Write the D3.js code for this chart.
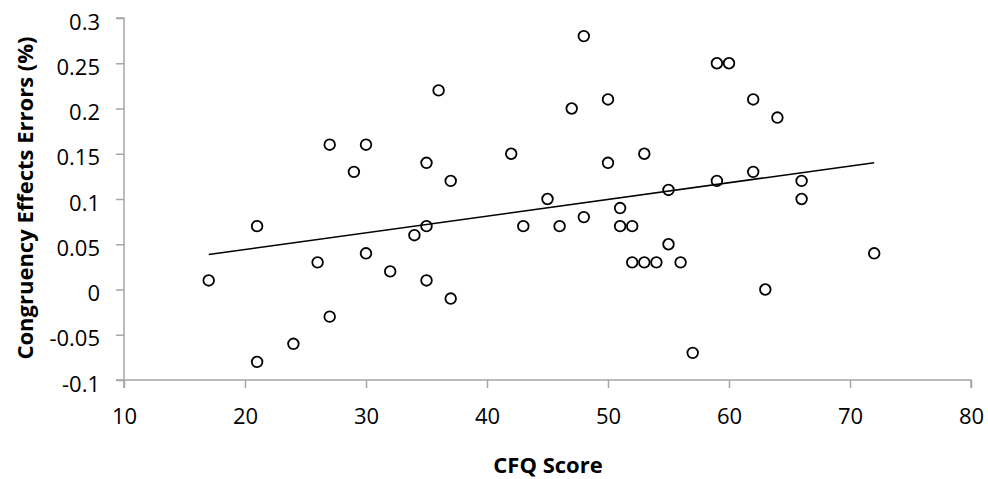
<!DOCTYPE html>
<html>
<head>
<meta charset="utf-8">
<script src="https://cdn.jsdelivr.net/npm/d3@7"></script>
<style>
  body { margin: 0; background: #fff; }
  svg { display: block; font-family: "Open Sans", Lato, "Liberation Sans", sans-serif; }
</style>
</head>
<body>
<div id="chart"></div>
<script>
// ── Data ──
const cfq = [17, 21, 21, 24, 26, 27, 27, 29, 30, 30, 32, 34, 35, 35, 35, 36,
  37, 37, 42, 43, 45, 46, 47, 48, 48, 50, 50, 51, 51, 52, 52, 53, 53, 54, 55,
  55, 56, 57, 59, 60, 59, 62, 62, 63, 64, 66, 66, 72];
const errs = [0.01, 0.07, -0.08, -0.06, 0.03, 0.16, -0.03, 0.13, 0.16, 0.04,
  0.02, 0.06, 0.14, 0.07, 0.01, 0.22, 0.12, -0.01, 0.15, 0.07, 0.10, 0.07,
  0.20, 0.28, 0.08, 0.21, 0.14, 0.09, 0.07, 0.07, 0.03, 0.15, 0.03, 0.03,
  0.11, 0.05, 0.03, -0.07, 0.25, 0.25, 0.12, 0.21, 0.13, 0.00, 0.19, 0.12,
  0.10, 0.04];
const xTicks = [10, 20, 30, 40, 50, 60, 70, 80];
const yTicks = [-0.1, -0.05, 0, 0.05, 0.1, 0.15, 0.2, 0.25, 0.3];

const W = 988, H = 479;
const M = { t: 18, r: 17, b: 99, l: 124 };
const w = W - M.l - M.r;
const h = H - M.t - M.b;
const AXIS = "#a6a6a6";
const FS = "22px";

const svg = d3.select("#chart").append("svg")
  .attr("width", W).attr("height", H);

const g = svg.append("g").attr("transform", `translate(${M.l},${M.t})`);

const x = d3.scaleLinear().domain([10, 80]).range([0, w]);
const y = d3.scaleLinear().domain([-0.1, 0.3]).range([h, 0]);

// ── Axes ──
const yAxis = g.append("g")
  .call(d3.axisLeft(y).tickValues(yTicks).tickSize(8).tickPadding(16)
    .tickFormat((d) => String(+d.toFixed(2))));
const xAxis = g.append("g")
  .attr("transform", `translate(0,${h})`)
  .call(d3.axisBottom(x).tickValues(xTicks).tickSize(8).tickPadding(20)
    .tickFormat(d3.format("d")));

[yAxis, xAxis].forEach((a) => {
  a.select(".domain").attr("stroke", AXIS).attr("stroke-width", 1.5);
  a.selectAll(".tick line").attr("stroke", AXIS).attr("stroke-width", 1.5);
  a.selectAll("text").attr("fill", "#000").style("font-size", FS)
    .style("font-family", "'Open Sans', Lato, sans-serif");
});
yAxis.selectAll("text").attr("dy", "0.5em");
// extend domain past the origin like the tick cross
yAxis.select(".domain").attr("d", `M-8,0H0V${h + 8}`);
xAxis.select(".domain").attr("d", `M-8,0H${w}V8`);

// ── Trend line (least squares) ──
const mx = d3.mean(cfq), my = d3.mean(errs);
const sxy = d3.sum(cfq, (v, i) => (v - mx) * (errs[i] - my));
const sxx = d3.sum(cfq, (v) => (v - mx) ** 2);
const slope = sxy / sxx, icpt = my - slope * mx;
const [x0, x1] = d3.extent(cfq);

g.append("line")
  .attr("x1", x(x0)).attr("y1", y(icpt + slope * x0))
  .attr("x2", x(x1)).attr("y2", y(icpt + slope * x1))
  .attr("stroke", "#000").attr("stroke-width", 1.6);

// ── Points ──
g.selectAll(".pt")
  .data(cfq.map((v, i) => [v, errs[i]]))
  .enter().append("circle")
  .attr("class", "pt")
  .attr("cx", (d) => x(d[0]))
  .attr("cy", (d) => y(d[1]))
  .attr("r", 5.3)
  .attr("fill", "none")
  .attr("stroke", "#000")
  .attr("stroke-width", 1.8);

// ── Titles ──
svg.append("text")
  .attr("x", 548).attr("y", 473)
  .attr("text-anchor", "middle")
  .style("font-size", FS).style("font-weight", "bold")
  .text("CFQ Score");

svg.append("text")
  .attr("transform", `translate(33,198) rotate(-90)`)
  .attr("text-anchor", "middle")
  .style("font-size", FS).style("font-weight", "bold")
  .text("Congruency Effects Errors (%)");
</script>
</body>
</html>
